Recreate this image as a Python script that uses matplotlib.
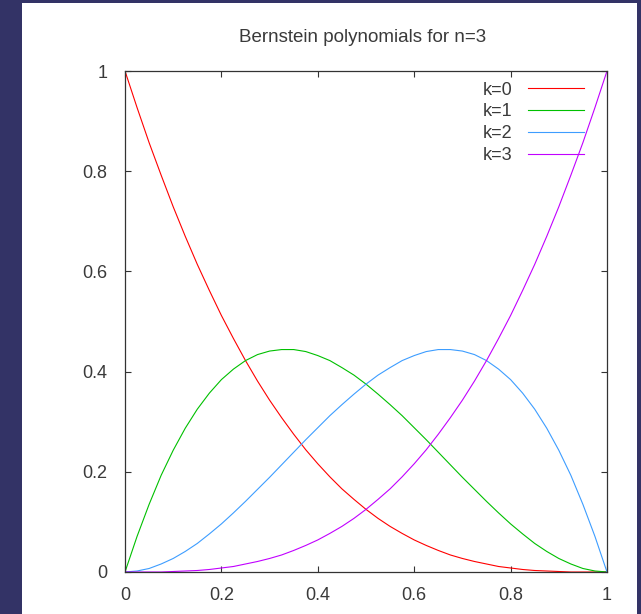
import matplotlib
matplotlib.use("Agg")
import matplotlib.pyplot as plt
from matplotlib.patches import Rectangle

# values at steps of 0.025
x_values = [i / 40 for i in range(41)]
k0 = [1.000, 0.927, 0.857, 0.792, 0.729, 0.670, 0.614, 0.562, 0.512, 0.466, 0.422,
      0.381, 0.343, 0.308, 0.275, 0.244, 0.216, 0.190, 0.166, 0.145, 0.125,
      0.107, 0.091, 0.077, 0.064, 0.053, 0.043, 0.034, 0.027, 0.021, 0.016,
      0.011, 0.008, 0.005, 0.003, 0.002, 0.001, 0.000, 0.000, 0.000, 0.000]
k1 = [0.000, 0.071, 0.135, 0.193, 0.243, 0.287, 0.325, 0.357, 0.384, 0.405, 0.422,
      0.434, 0.441, 0.444, 0.444, 0.440, 0.432, 0.422, 0.408, 0.393, 0.375,
      0.355, 0.334, 0.312, 0.288, 0.264, 0.239, 0.214, 0.189, 0.165, 0.141,
      0.118, 0.096, 0.076, 0.057, 0.041, 0.027, 0.016, 0.007, 0.002, 0.000]
k2 = [0.000, 0.002, 0.007, 0.016, 0.027, 0.041, 0.057, 0.076, 0.096, 0.118, 0.141,
      0.165, 0.189, 0.214, 0.239, 0.264, 0.288, 0.312, 0.334, 0.355, 0.375,
      0.393, 0.408, 0.422, 0.432, 0.440, 0.444, 0.444, 0.441, 0.434, 0.422,
      0.405, 0.384, 0.357, 0.325, 0.287, 0.243, 0.193, 0.135, 0.071, 0.000]
k3 = [0.000, 0.000, 0.000, 0.000, 0.001, 0.002, 0.003, 0.005, 0.008, 0.011, 0.016,
      0.021, 0.027, 0.034, 0.043, 0.053, 0.064, 0.077, 0.091, 0.107, 0.125,
      0.145, 0.166, 0.190, 0.216, 0.244, 0.275, 0.308, 0.343, 0.381, 0.422,
      0.466, 0.512, 0.562, 0.614, 0.670, 0.729, 0.792, 0.857, 0.927, 1.000]

series = [k0, k1, k2, k3]
labels = ['k=0', 'k=1', 'k=2', 'k=3']
colors = ['#ff0000', '#00c000', '#3d9dff', '#c100ff']
x_ticks = [0, 0.2, 0.4, 0.6, 0.8, 1]
y_ticks = [0, 0.2, 0.4, 0.6, 0.8, 1]
tick_labels = ['0', '0.2', '0.4', '0.6', '0.8', '1']

plt.rcParams['font.family'] = ['Liberation Sans', 'DejaVu Sans']
plt.rcParams['font.size'] = 13

W, H = 641, 614
fig = plt.figure(figsize=(W / 100, H / 100), dpi=100, facecolor='#333366')

# white plot panel on the dark background
fig.patches.append(Rectangle((22 / W, 0), 615 / W, 611 / H,
                             transform=fig.transFigure, facecolor='white',
                             edgecolor='none', zorder=-5))

ax = fig.add_axes([125 / W, (H - 572) / H, 482 / W, 501 / H])
ax.set_facecolor('white')

for ys, lab, col in zip(series, labels, colors):
    ax.plot(x_values, ys, color=col, linewidth=0.8, label=lab)

ax.set_xlim(0, 1)
ax.set_ylim(0, 1)
ax.set_xticks(x_ticks)
ax.set_xticklabels(tick_labels)
ax.set_yticks(y_ticks)
ax.set_yticklabels(tick_labels)
ax.tick_params(direction='in', length=4, width=0.8, top=True, right=True,
               colors='#333333', labelcolor='#3a3a3a', pad=12.5)
ax.tick_params(axis='x', pad=10.5)
for sp in ax.spines.values():
    sp.set_color('#333333')
    sp.set_linewidth(0.9)

leg = ax.legend(loc='upper right', bbox_to_anchor=(0.952, 0.979),
                frameon=False, markerfirst=False, handlelength=3.1,
                handletextpad=0.85, labelspacing=0.27, borderaxespad=0.0,
                borderpad=0.0)
for t in leg.get_texts():
    t.set_color('#3a3a3a')

fig.text(363 / W, (H - 37) / H, 'Bernstein polynomials for n=3',
         ha='center', va='center', color='#3a3a3a', fontsize=13.5)

fig.savefig('out.png', dpi=100, facecolor=fig.get_facecolor())
